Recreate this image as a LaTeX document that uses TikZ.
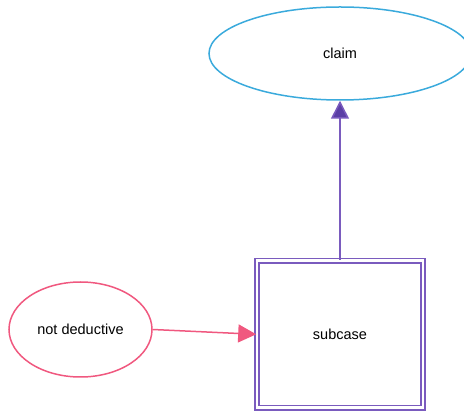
\documentclass[tikz,border=0pt]{standalone}
\usepackage{fontspec}
\setmainfont{Liberation Sans}
\usetikzlibrary{shapes.geometric,arrows.meta}
\definecolor{cblue}{HTML}{3AAADC}
\definecolor{cpurple}{HTML}{7A5BBE}
\definecolor{cpurpled}{HTML}{5B3FA6}
\definecolor{cpink}{HTML}{F0587F}
\begin{document}
\begin{tikzpicture}[x=1pt,y=-1pt,
  lbl/.style={font=\fontsize{14.5}{17}\selectfont},
  ell/.style={ellipse,draw,line width=1.5pt,inner sep=0pt,lbl},
  dbox/.style={rectangle,draw=cpurple,double=white,double distance=2.8pt,line width=1.6pt,inner sep=0pt,lbl},
  edge/.style={line width=1.5pt}]
\useasboundingbox (0,0) rectangle (464,411);
\node[ell,draw=cblue,minimum width=262pt,minimum height=93pt] (claim) at (340,53.5) {claim};
\node[ell,draw=cpink,minimum width=143pt,minimum height=95pt] (nd) at (80.5,329.5) {not deductive};
\node[dbox,minimum width=166pt,minimum height=147pt] (sub) at (340,334.3) {subcase};
\draw[edge,draw=cpurple,-{Triangle[length=18pt,width=18pt,fill=cpurpled]}] (sub.north) -- (claim.south);
\draw[edge,draw=cpink,-{Triangle[length=18pt,width=18pt]}] (nd.east) -- (sub.west);
\end{tikzpicture}
\end{document}
